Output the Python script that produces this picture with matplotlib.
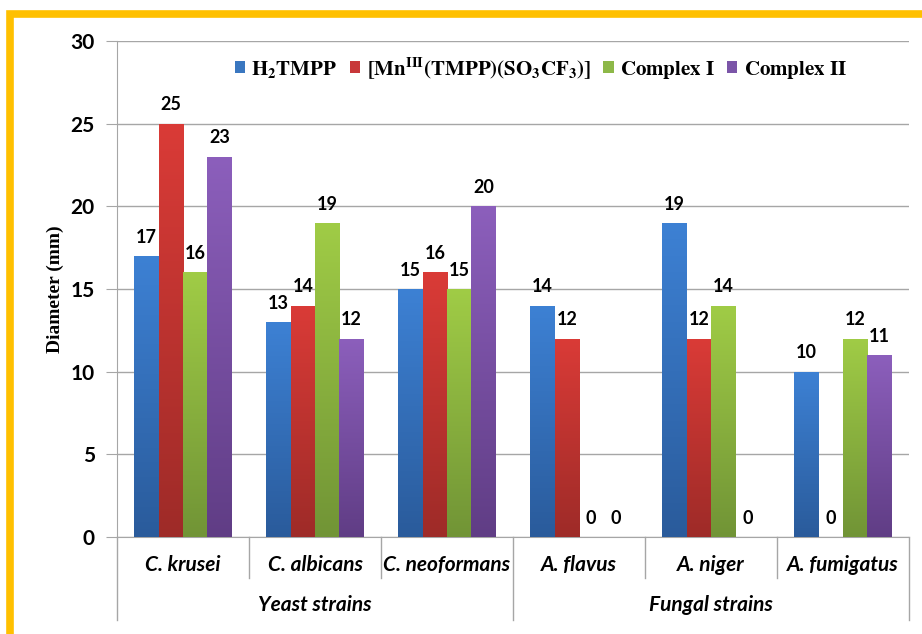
import matplotlib
matplotlib.use("Agg")
import matplotlib.pyplot as plt
import numpy as np
from matplotlib.patches import Rectangle, Patch
from matplotlib.colors import LinearSegmentedColormap
import matplotlib.transforms as mtransforms

plt.rcParams['mathtext.fontset'] = 'stix'

categories = ["C. krusei", "C. albicans", "C. neoformans", "A. flavus", "A. niger", "A. fumigatus"]
groups = ["Yeast strains", "Fungal strains"]
group_sizes = [3, 3]
series_names = [r"$\mathbf{H_2TMPP}$",
                r"$\mathbf{[Mn^{III}(TMPP)(SO_3CF_3)]}$",
                r"$\mathbf{Complex\ I}$",
                r"$\mathbf{Complex\ II}$"]
h2tmpp = [17, 13, 15, 14, 19, 10]
mn_complex = [25, 14, 16, 12, 12, 0]
complex1 = [16, 19, 15, 0, 14, 12]
complex2 = [23, 12, 20, 0, 0, 11]
series = [h2tmpp, mn_complex, complex1, complex2]
yticks = [0, 5, 10, 15, 20, 25, 30]

top_colors = ["#3D81D4", "#DA3B37", "#A0CC46", "#8C5FBC"]
bot_colors = ["#2A5B9B", "#9E2B28", "#719436", "#603D85"]
legend_colors = ["#3A77C0", "#C8383A", "#8DB848", "#7B55A8"]

SANS = "Lato"

fig = plt.figure(figsize=(9.22, 6.34), dpi=100)
ax = fig.add_axes([117/922, 1-537/634, 792/922, 496/634])

x = np.arange(len(categories))
bw = 0.184
grid = "#A6A6A6"
ax.set_xlim(-0.5, len(categories)-0.5)
ax.set_ylim(0, 30)

for i, (vals, tc, bc) in enumerate(zip(series, top_colors, bot_colors)):
    pos = x + (i - 1.5) * bw
    bars = ax.bar(pos, vals, width=bw, color=tc, zorder=3, label=series_names[i], linewidth=0)
    cmap = LinearSegmentedColormap.from_list("g%d" % i, [bc, tc])
    for b, v in zip(bars, vals):
        if v > 0:
            b.set_facecolor("none")
            grad = np.linspace(0, 1, 256).reshape(-1, 1)
            im = ax.imshow(grad, cmap=cmap, origin="lower", aspect="auto",
                           extent=[b.get_x(), b.get_x()+b.get_width(), 0, v],
                           zorder=3)
            im.set_clip_path(b)
        ax.text(b.get_x()+b.get_width()/2, v + 0.62, str(v), ha="center", va="bottom",
                fontsize=13, fontweight="bold", family=SANS, zorder=4)

ax.set_xlim(-0.5, len(categories)-0.5)
ax.set_ylim(0, 30)

handles = [Patch(facecolor=c, edgecolor="none") for c in legend_colors]
leg = ax.legend(handles, series_names, loc="center", bbox_to_anchor=(0.535, 0.946), ncol=4,
                frameon=False, handlelength=0.5, handleheight=0.5, handletextpad=0.3,
                columnspacing=0.6, prop={"size": 15})

ax.set_yticks(yticks)
ax.set_yticklabels([str(t) for t in yticks], fontsize=15, fontweight="bold", family=SANS)
ax.tick_params(axis="y", length=8, color=grid, pad=8)
ax.yaxis.grid(True, color=grid, linewidth=1)
ax.set_axisbelow(True)
for s in ["top", "right"]:
    ax.spines[s].set_visible(False)
ax.spines["left"].set_color(grid)
ax.spines["bottom"].set_color(grid)
ax.spines["left"].set_zorder(5)

ax.set_xticks([])
ax.set_ylabel("Diameter (mm)", family="Liberation Serif", fontweight="bold", fontsize=14, labelpad=5)

trans = mtransforms.blended_transform_factory(ax.transData, ax.transAxes)
ah = 496.0
for k, c in enumerate(categories):
    ax.text(k, -28/ah, c, transform=trans, ha="center", va="center", fontsize=15,
            fontweight="bold", style="italic", family=SANS)
bounds = np.arange(len(categories)+1) - 0.5
gb = np.cumsum([0] + group_sizes) - 0.5
for b in bounds:
    depth = -83/ah if b in gb else -41/ah
    ax.plot([b, b], [0, depth], transform=trans, color=grid, lw=1, clip_on=False)
start = 0
for g, n in zip(groups, group_sizes):
    ax.text(start + (n-1)/2, -68/ah, g, transform=trans, ha="center", va="center", fontsize=15,
            fontweight="bold", style="italic", family=SANS)
    start += n

fig.patches.append(Rectangle((9.5/922, -0.2), 1.5, 1.2 - 13.5/634, transform=fig.transFigure,
                             fill=False, edgecolor="#FFC000", linewidth=5.5))

fig.savefig("out.png", dpi=100)
